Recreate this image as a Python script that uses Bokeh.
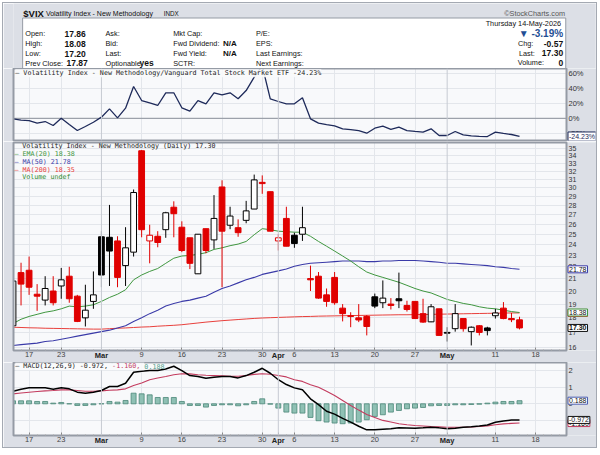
import math
from bokeh.plotting import figure
from bokeh.layouts import column, row
from bokeh.models import Range1d, FixedTicker, PrintfTickFormatter, Label, Span, Spacer, LinearAxis
from bokeh.embed import file_html
from bokeh.resources import INLINE
from bokeh.core.properties import value

# ---------------- data ----------------
opens = [17.45, 21.5, 21.7, 19.75, 19.3, 20.0, 20.4, 21.2, 19.6, 18.0,
         19.2, 24.75, 24.7, 24.35, 22.1, 23.3, 34.7, 24.35, 24.8, 25.45,
         27.8, 25.7, 24.65, 21.4, 25.55, 24.45, 30.1, 25.9, 25.65, 26.4,
         27.6, 30.65, 29.55, 24.35, 26.6, 24.9, 25.0, 21.0, 21.2, 19.7,
         21.1, 18.7, 18.15, 18.0, 18.1, 19.55, 19.1, 19.0, 19.4, 18.9,
         19.2, 18.3, 17.72, 18.65, 17.0, 17.25, 17.95, 17.05, 17.45, 17.3,
         18.15, 18.7, 17.95, 17.86]
highs = [20.85, 22.35, 22.9, 20.55, 21.2, 21.2, 21.9, 22.0, 19.7, 20.5,
         21.6, 25.3, 28.05, 24.8, 25.7, 29.8, 34.8, 25.95, 25.3, 27.3,
         28.45, 26.3, 24.65, 25.0, 25.55, 29.15, 30.9, 27.85, 26.5, 28.5,
         31.6, 31.5, 29.55, 25.0, 27.85, 25.15, 27.85, 22.1, 21.55, 20.2,
         21.55, 19.0, 18.4, 19.0, 18.2, 19.8, 20.85, 19.45, 21.5, 19.25,
         19.2, 19.4, 19.0, 18.65, 17.35, 19.0, 17.95, 17.4, 17.5, 17.38,
         18.65, 19.15, 18.35, 18.08]
lows = [17.4, 18.9, 19.7, 18.5, 18.9, 18.9, 19.4, 19.1, 17.7, 17.4,
        18.65, 20.3, 20.4, 20.3, 20.4, 22.9, 24.7, 22.3, 23.75, 24.65,
        24.7, 23.3, 21.8, 21.4, 23.2, 23.6, 20.3, 25.5, 24.75, 26.1,
        27.6, 29.3, 25.3, 23.45, 23.85, 23.7, 24.35, 20.0, 19.4, 18.8,
        18.95, 17.75, 17.35, 17.7, 16.8, 18.7, 18.7, 18.6, 18.7, 18.45,
        17.93, 17.65, 17.7, 16.8, 16.4, 17.05, 17.05, 16.15, 16.8, 16.8,
        17.95, 17.9, 17.7, 17.20]
closes = [20.8, 20.55, 20.3, 19.6, 20.2, 19.1, 20.9, 19.4, 17.75, 18.55,
          19.7, 21.3, 23.4, 21.1, 23.7, 29.45, 25.45, 24.9, 24.2, 27.2,
          27.1, 23.45, 22.3, 25.0, 23.45, 26.6, 25.3, 26.85, 25.15, 27.4,
          30.95, 30.5, 25.3, 24.65, 23.85, 24.1, 25.65, 20.9, 19.45, 19.2,
          19.1, 18.3, 18.1, 17.85, 17.4, 18.85, 19.45, 18.9, 19.25, 18.6,
          17.95, 17.7, 18.8, 16.8, 16.95, 18.3, 17.25, 17.35, 17.0, 17.12,
          18.35, 17.95, 17.87, 17.30]
prev_close_start = 20.2

ema20 = [17.6, 17.9, 18.1, 18.25, 18.4, 18.5, 18.65, 18.85, 18.8, 18.85,
         18.95, 19.2, 19.5, 19.75, 20.1, 20.9, 21.3, 21.6, 21.85, 22.3,
         22.75, 22.95, 23.0, 23.1, 23.25, 23.55, 23.7, 23.9, 24.05, 24.3,
         24.95, 25.55, 25.45, 25.3, 25.25, 25.2, 25.2, 24.8, 24.3, 23.85,
         23.4, 22.95, 22.5, 22.0, 21.55, 21.3, 21.1, 20.9, 20.7, 20.45,
         20.2, 20.0, 19.85, 19.6, 19.35, 19.2, 19.05, 18.95, 18.8, 18.7,
         18.65, 18.55, 18.45, 18.38]
ma50 = [16.15, 16.2, 16.25, 16.3, 16.4, 16.45, 16.55, 16.65, 16.75, 16.85,
        16.95, 17.05, 17.15, 17.3, 17.45, 17.75, 18.0, 18.3, 18.55, 18.85,
        19.05, 19.2, 19.3, 19.45, 19.6, 19.9, 20.2, 20.4, 20.65, 20.9,
        21.1, 21.35, 21.5, 21.65, 21.8, 22.05, 22.2, 22.3, 22.35, 22.4,
        22.45, 22.5, 22.5, 22.5, 22.45, 22.45, 22.5, 22.5, 22.55, 22.55,
        22.55, 22.5, 22.45, 22.4, 22.3, 22.3, 22.25, 22.2, 22.15, 22.1,
        22.0, 21.95, 21.85, 21.78]
ma200 = [17.35, 17.33, 17.31, 17.3, 17.28, 17.27, 17.26, 17.25, 17.24, 17.23,
         17.22, 17.22, 17.25, 17.28, 17.3, 17.33, 17.36, 17.38, 17.42, 17.45,
         17.48, 17.52, 17.58, 17.64, 17.7, 17.75, 17.8, 17.84, 17.88, 17.92,
         17.96, 17.99, 18.01, 18.03, 18.05, 18.07, 18.09, 18.1, 18.12, 18.13,
         18.14, 18.15, 18.16, 18.17, 18.18, 18.19, 18.2, 18.21, 18.22, 18.22,
         18.23, 18.24, 18.25, 18.26, 18.27, 18.28, 18.29, 18.3, 18.31, 18.32,
         18.33, 18.34, 18.35, 18.35]
ratio_pct = [-0.7, -2.5, -3.2, -6.5, -4.3, -9.6, 0.0, -8.3, -16.3, -10.9,
             -5.2, 1.5, 12.6, 0.6, 13.5, 42.4, 23.7, 20.5, 17.1, 34.0,
             34.0, 14.0, 9.5, 23.7, 19.3, 34.0, 31.3, 34.0, 26.0, 37.0,
             55.0, 70.0, 26.0, 22.4, 19.3, 19.3, 27.3, -0.7, -6.5, -8.5,
             -10.0, -14.0, -15.0, -16.3, -19.9, -13.2, -10.5, -14.9, -11.9, -16.3,
             -17.5, -18.5, -14.0, -22.9, -22.9, -17.6, -22.0, -23.5, -24.0, -24.3,
             -18.5, -20.2, -21.6, -24.23]
macd = [0.76, 0.88, 0.96, 0.96, 0.96, 0.88, 0.96, 0.90, 0.70, 0.64,
        0.70, 0.80, 1.04, 1.04, 1.24, 1.90, 1.96, 2.00, 2.00, 2.10,
        2.26, 2.00, 1.70, 1.64, 1.54, 1.60, 1.64, 1.64, 1.56, 1.70,
        1.90, 2.14, 1.84, 1.45, 1.16, 0.96, 0.85, 0.30, -0.05, -0.45,
        -0.62, -0.88, -1.10, -1.35, -1.57, -1.57, -1.53, -1.50, -1.45, -1.46,
        -1.47, -1.45, -1.41, -1.45, -1.51, -1.47, -1.41, -1.38, -1.34, -1.28,
        -1.11, -1.03, -0.98, -0.972]
signal = [0.60, 0.65, 0.70, 0.74, 0.78, 0.80, 0.84, 0.84, 0.80, 0.76,
          0.76, 0.78, 0.82, 0.84, 0.90, 1.10, 1.25, 1.45, 1.55, 1.64,
          1.75, 1.81, 1.80, 1.75, 1.72, 1.70, 1.68, 1.66, 1.66, 1.70,
          1.77, 1.81, 1.78, 1.70, 1.62, 1.45, 1.35, 1.15, 1.00, 0.75,
          0.50, 0.20, -0.10, -0.38, -0.64, -0.82, -1.00, -1.10, -1.20, -1.26,
          -1.31, -1.34, -1.37, -1.39, -1.41, -1.41, -1.41, -1.40, -1.37, -1.33,
          -1.26, -1.21, -1.18, -1.16]
hist = [0.18, 0.18, 0.18, 0.14, 0.14, 0.04, 0.08, 0.0, -0.10, -0.10,
        -0.06, 0.0, 0.14, 0.10, 0.20, 0.64, 0.60, 0.54, 0.38, 0.38,
        0.38, 0.14, -0.10, -0.10, -0.20, -0.10, -0.06, -0.06, -0.12, -0.06,
        0.14, 0.30, -0.02, -0.26, -0.50, -0.56, -0.56, -0.82, -1.02, -1.10,
        -1.16, -1.20, -1.16, -1.10, -0.96, -0.76, -0.66, -0.50, -0.40, -0.30,
        -0.26, -0.22, -0.12, -0.10, -0.10, -0.06, -0.06, -0.04, -0.02, 0.04,
        0.10, 0.14, 0.14, 0.188]

day_ticks = [2, 6, 16, 21, 26, 31, 35, 40, 45, 50, 60, 65]
day_labels = ["17", "23", "9", "16", "23", "30", "6", "13", "20", "27", "11", "18"]
month_ticks = [11, 33, 54]
month_labels = ["Mar", "Apr", "May"]
price_ticks = list(range(16, 36))
ratio_ticks = [-20, 0, 20, 40, 60]
macd_ticks = [-1, 0, 1, 2]

# ---------------- style ----------------
OUTER = "#dcdfe6"
PLOT = "#f8f9fb"
EDGE = "#959ba5"
GRIDC = "#e3e6eb"
MONTHC = "#c6cad2"
SANS = "Liberation Sans"
MONO = "DejaVu Sans Mono"
RED = "#e00000"
C_EMA = "#3f963f"
C_MA50 = "#3a3aa8"
C_MA200 = "#e8403c"
C_RATIO = "#1e2a5a"
C_SIG = "#c33b5e"
C_HIST = "#8fc0b4"
C_HISTL = "#4a8677"

W = 593          # canvas width (page x 3..596)
FL = 10          # frame starts at page x 13
PX = 8.04        # pixels per trading day
PLOT_RIGHT = 566  # page x where the plotting box ends (price scale area beyond)
CANVAS_RIGHT = 595


def ix(px):
    return (px - 12.5) / PX


def price_y(py):
    return 16 * math.exp((349.3 - py) / 257.0)


def ratio_y(py):
    return (117.8 - py) * 4.0 / 3.0


def macd_y(py):
    return (403.3 - py) / 16.6


n = len(closes)
idx = list(range(n))
X0 = ix(13)
xr = Range1d(X0, ix(CANVAS_RIGHT))


def panel(height, top, bottom, y_range, log=False):
    p = figure(width=W, height=height, x_range=xr, y_range=y_range,
               y_axis_type="log" if log else "linear",
               y_axis_location="right", x_axis_location="below",
               min_border_left=FL, min_border_right=1,
               min_border_top=top, min_border_bottom=bottom,
               toolbar_location=None, output_backend="svg",
               background_fill_color=PLOT, border_fill_color=OUTER,
               outline_line_color=None)
    # price-scale strip (right of the plotting box) and the box edge
    y0, y1 = y_range.start, y_range.end
    p.quad(left=[ix(PLOT_RIGHT)], right=[ix(CANVAS_RIGHT + 2)], bottom=[y0], top=[y1],
           fill_color=OUTER, line_color=None, level="guide")
    p.quad(left=[X0], right=[ix(PLOT_RIGHT)], bottom=[y0], top=[y1],
           fill_color=None, line_color=EDGE, line_width=2, level="guide")
    return p


def style_y(p, ticks, fmt, size):
    ax = p.yaxis[0]
    ax.ticker = FixedTicker(ticks=ticks, minor_ticks=[])
    ax.formatter = PrintfTickFormatter(format=fmt)
    ax.major_label_text_font = SANS
    ax.major_label_text_font_size = size
    ax.major_label_text_color = "#333333"
    ax.major_tick_out = 0
    ax.major_tick_in = 0
    ax.minor_tick_out = 0
    ax.minor_tick_in = 0
    ax.axis_line_color = None
    ax.major_label_standoff = -(CANVAS_RIGHT - 568)
    p.ygrid.ticker = FixedTicker(ticks=ticks)
    p.ygrid.grid_line_color = GRIDC


def style_x(p, show):
    p.xgrid.ticker = FixedTicker(ticks=day_ticks)
    p.xgrid.grid_line_color = GRIDC
    for t in month_ticks:
        p.add_layout(Span(location=t, dimension="height", line_color=MONTHC, line_width=1))
    if not show:
        p.xaxis.visible = False
        return
    ax = p.xaxis[0]
    ax.ticker = FixedTicker(ticks=day_ticks + month_ticks, minor_ticks=list(range(0, 69)))
    overrides = {t: l for t, l in zip(day_ticks, day_labels)}
    for t in month_ticks:
        overrides[t] = ""
    ax.major_label_overrides = overrides
    ax.major_label_text_font = SANS
    ax.major_label_text_font_size = "7.5px"
    ax.major_label_text_color = "#444444"
    ax.major_tick_in = 3
    ax.major_tick_out = 0
    ax.minor_tick_in = 1
    ax.minor_tick_out = 0
    ax.major_tick_line_color = "#888888"
    ax.minor_tick_line_color = "#aaaaaa"
    ax.axis_line_color = None
    ax.major_label_standoff = 1
    # bold month names, stacked back onto the same line as the day labels
    mx = LinearAxis(ticker=FixedTicker(ticks=month_ticks, minor_ticks=[]),
                    major_label_overrides={t: l for t, l in zip(month_ticks, month_labels)},
                    major_label_text_font=SANS, major_label_text_font_size="7.5px",
                    major_label_text_font_style="bold", major_label_text_color="#222222",
                    major_tick_in=0, major_tick_out=0, minor_tick_in=0, minor_tick_out=0,
                    axis_line_color=None, major_label_standoff=-9)
    p.add_layout(mx, "below")


def legend(p, px, yv, text, color="#222222", bg=False, size="6.7px"):
    kw = dict(x=ix(px), y=yv, text=text, text_font=MONO, text_font_size=size,
              text_color=color, text_align="left", text_baseline="middle")
    if bg:
        kw.update(background_fill_color=PLOT, background_fill_alpha=0.9)
    p.add_layout(Label(**kw))


def tag(p, yv, text, border, color="#111111", bold=False):
    p.add_layout(Label(x=ix(567.5), y=yv, text=text, text_font=SANS,
                       text_font_size="7px",
                       text_font_style="bold" if bold else "normal",
                       text_color=color, text_align="left", text_baseline="middle",
                       background_fill_color="#ffffff", border_line_color=border,
                       border_line_width=1, padding=1))


# ---------------- header ----------------
hdr = figure(width=W, height=65, x_range=Range1d(3, 596), y_range=Range1d(68, 3),
             x_axis_location=None, y_axis_location=None, min_border=0,
             toolbar_location=None, output_backend="svg",
             background_fill_color=OUTER, border_fill_color=OUTER, outline_line_color=None)
hdr.grid.visible = False
hdr.quad(left=[12.3], right=[565.7], top=[17.5], bottom=[68.5], fill_color="#ffffff",
         line_color=EDGE, line_width=1)


def htext(x, y, s, size="7.3px", bold=False, color="#111111", align="left", font=SANS):
    hdr.text(x=[x], y=[y], text=[s], text_font=value(font), text_font_size=size,
             text_font_style="bold" if bold else "normal", text_color=color,
             text_align=align, text_baseline="middle")


last_v = closes[-1]
prev_v = closes[-2]
chg = last_v - prev_v
pct = chg / prev_v * 100

htext(13, 12.5, "$VIX", size="9.5px", bold=True)
htext(36, 12.8, "Volatility Index - New Methodology", size="7px")
htext(156, 13, "INDX", size="6.3px")
htext(565, 12.8, "\u00a9StockCharts.com", size="7.3px", color="#555555", align="right")
htext(563, 23.3, "Thursday  14-May-2026", size="7.3px", align="right")
htext(563, 33.3, "\u25bc %.2f%%" % pct, size="10px", bold=True, color="#1f4f95", align="right")
rows_y = [33, 43, 53, 62.7]
for y, s in zip(rows_y, ["Open:", "High:", "Low:", "Prev Close:"]):
    htext(15, y, s)
for y, v, x in zip(rows_y, [opens[-1], highs[-1], lows[-1], prev_v], [55, 55, 55, 57]):
    htext(x, y, "%.2f" % v, size="8.5px", bold=True)
for y, s in zip(rows_y, ["Ask:", "Bid:", "Last:", "Optionable"]):
    htext(96.7, y, s)
htext(131.5, 62.9, "yes", size="8.5px", bold=True)
for y, s in zip(rows_y, ["Mkt Cap:", "Fwd Dividend:", "Fwd Yield:", "SCTR:"]):
    htext(165.7, y, s)
htext(216.5, 43, "N/A", size="8px", bold=True)
htext(216.5, 53, "N/A", size="8px", bold=True)
for y, s in zip(rows_y, ["P/E:", "EPS:", "Last Earnings:", "Next Earnings:"]):
    htext(250, y, s)
htext(517, 43, "Chg:")
htext(563, 43, "%.2f" % chg, size="8.5px", bold=True, align="right")
htext(518, 52.7, "Last:")
htext(563, 52.7, "%.2f" % last_v, size="8.5px", bold=True, align="right")
htext(516.7, 62.3, "Volume:")
htext(563, 62.3, "0", size="8.5px", bold=True, align="right")

# ---------------- ratio panel ----------------
pr = panel(73, 0, 1, Range1d(ratio_y(140), ratio_y(68)))
style_y(pr, ratio_ticks, "%d%%", "7.5px")
style_x(pr, False)
pr.segment(x0=[X0], y0=[0], x1=[ix(PLOT_RIGHT)], y1=[0], line_color="#8a909a", line_width=1)
pr.line(idx, ratio_pct, line_color=C_RATIO, line_width=1.3)
legend(pr, 14.8, ratio_y(72.7),
       "\u2014 Volatility Index - New Methodology/Vanguard Total Stock Market ETF %.2f%%" % ratio_pct[-1],
       bg=True)
tag(pr, ratio_pct[-1], "%.2f%%" % ratio_pct[-1], C_RATIO, color=C_RATIO)

# ---------------- price panel ----------------
pp = panel(221, 1, 10, Range1d(price_y(352), price_y(142)), log=True)
style_y(pp, price_ticks, "%d", "7px")
style_x(pp, True)
pp.line(idx, ma200, line_color=C_MA200, line_width=1)
pp.line(idx, ma50, line_color=C_MA50, line_width=1.1)
pp.line(idx, ema20, line_color=C_EMA, line_width=1)
prevs = [prev_close_start] + closes[:-1]
ccol = [RED if c < pc else "#000000" for c, pc in zip(closes, prevs)]
cfill = [cc if c < o else "#ffffff" for cc, o, c in zip(ccol, opens, closes)]
btop = [max(o, c) for o, c in zip(opens, closes)]
bbot = [min(o, c) for o, c in zip(opens, closes)]
pp.segment(x0=idx, y0=lows, x1=idx, y1=highs, line_color=ccol, line_width=1)
pp.vbar(x=idx, width=0.72, top=btop, bottom=bbot, fill_color=cfill, line_color=ccol, line_width=1)

legend(pp, 21.7, price_y(146), "Volatility Index - New Methodology (Daily) %.2f" % closes[-1])
legend(pp, 14, price_y(154), "\u2014 EMA(20) %.2f" % ema20[-1], color=C_EMA)
legend(pp, 14, price_y(161.7), "\u2014 MA(50) %.2f" % ma50[-1], color=C_MA50)
legend(pp, 14, price_y(169.3), "\u2014 MA(200) %.2f" % ma200[-1], color=C_MA200)
legend(pp, 21.7, price_y(176.5), "Volume undef", color="#2f8a2f")
tag(pp, ma50[-1], "%.2f" % ma50[-1], C_MA50)
tag(pp, ma200[-1], "%.2f" % ma200[-1], C_MA200)
tag(pp, ema20[-1], "%.2f" % ema20[-1], C_EMA)
tag(pp, closes[-1], "%.2f" % closes[-1], "#111111", bold=True)

# ---------------- MACD panel ----------------
pm = panel(85, 0, 12, Range1d(macd_y(435), macd_y(362)))
style_y(pm, macd_ticks, "%d", "7.5px")
style_x(pm, True)
pm.vbar(x=idx, width=0.62, top=hist, bottom=0, fill_color=C_HIST, line_color=C_HISTL, line_width=0.8)
pm.line(idx, signal, line_color=C_SIG, line_width=1.1)
pm.line(idx, macd, line_color="#000000", line_width=1.5)
cw = 0.602 * 6.7
seg1 = "\u2014 MACD(12,26,9) %.3f, " % macd[-1]
seg2 = "%.3f, " % signal[-1]
seg3 = "%.3f" % hist[-1]
legend(pm, 14.8, macd_y(365.7), seg1, bg=True)
legend(pm, 14.8 + len(seg1) * cw, macd_y(365.7), seg2, color=C_SIG, bg=True)
legend(pm, 14.8 + (len(seg1) + len(seg2)) * cw, macd_y(365.7), seg3, color="#4f9e8c", bg=True)
tag(pm, hist[-1], "%.3f" % hist[-1], "#4a5cb0")
tag(pm, signal[-1], "%.3f" % signal[-1], C_SIG)
tag(pm, macd[-1], "%.3f" % macd[-1], "#111111")

inner = column(hdr, pr, pp, pm, spacing=0, styles={"outline": "1px solid #a4a9b2"})
layout = column(Spacer(height=3), row(Spacer(width=3), inner, spacing=0), spacing=0)
open("out.html", "w").write(file_html(layout, INLINE, title="$VIX"))
